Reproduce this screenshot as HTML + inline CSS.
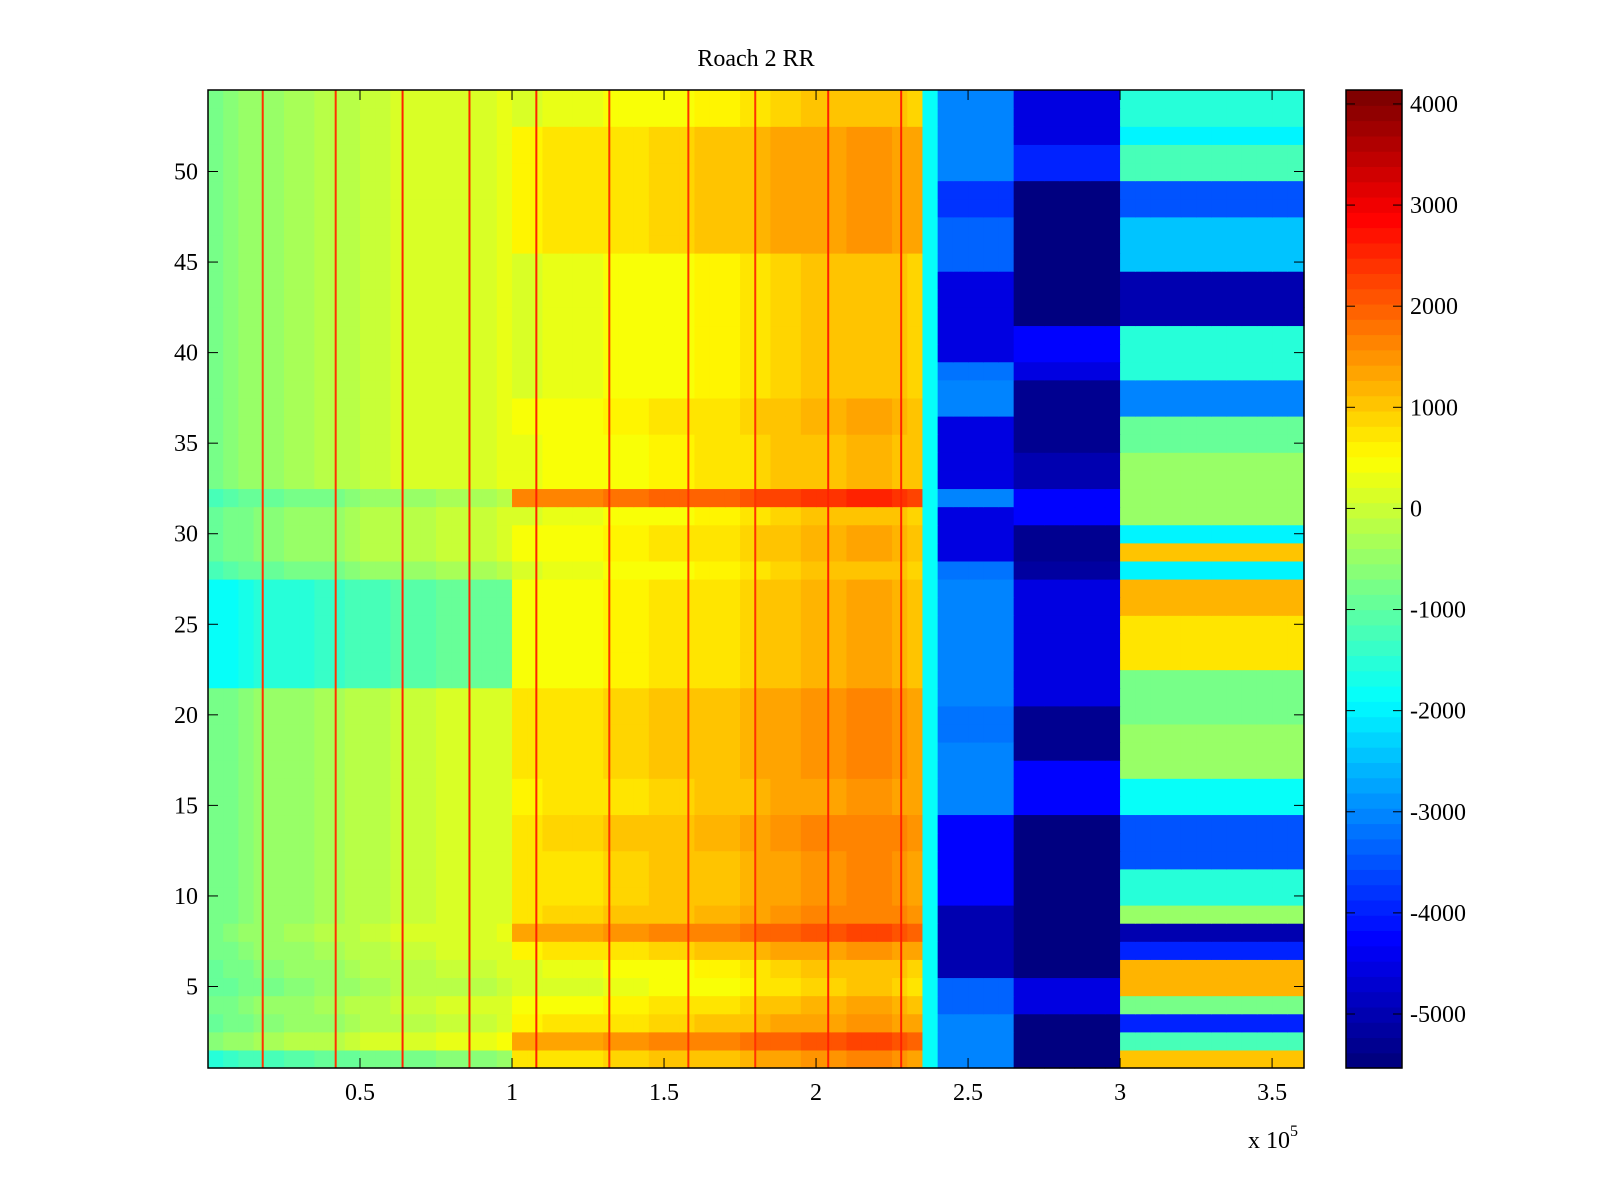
<!DOCTYPE html>
<html><head><meta charset="utf-8"><style>
html,body{margin:0;padding:0;background:#fff;}
svg{display:block;font-family:"Liberation Serif",serif;}
</style></head><body>
<svg id="chart" width="1600" height="1200" viewBox="0 0 1600 1200" xmlns="http://www.w3.org/2000/svg">
<rect width="1600" height="1200" fill="#fff"/>
<text x="756" y="66" font-size="24" text-anchor="middle">Roach 2 RR</text>
<g id="cells"></g>
<g id="stripes"></g>
<g id="axes"></g>
<g id="cbar"></g>
</svg>
<script>
// ---- data ----
const xBinWidth = 5000;
const colBase = [-600,-500,-400,-300,-300,-200,-200,-100,-100,0,
  100,100,200,200,200,300,300,300,300,400,
  400,400,500,500,500,500,600,600,600,700,
  700,700,800,800,800,900,1000,1100,1100,1200,
  1200,1200,1300,1300,1300,1200,1100,-1800];
// rows 1..54
const offsetNear = [-900,0,-300,-200,-400,-300,-200,-100,-200,-200,-200,-200,-200,-200,-200,-200,-200,-200,-200,-200,-200,-1300,-1300,-1300,-1300,-1300,-1300,-600,-300,-300,-300,-600,-100,-100,-100,-100,-100,-100,-100,-100,-100,-100,-100,-100,-100,-100,-100,-100,-100,-100,-100,-100,-100,-100];
const offsetFar = [300,900,200,0,-300,-200,200,900,400,300,300,300,400,400,200,200,300,300,300,300,300,0,0,0,0,0,0,-200,0,0,-200,1200,-100,-100,-100,0,0,-200,-200,-200,-200,-200,-200,-200,-200,200,200,200,200,200,200,200,-200,-200];
const midA = [-3000,-3000,-3000,-3300,-3300,-5000,-5000,-5000,-5000,-4200,-4200,-4200,-4200,-4200,-3000,-3000,-3000,-3000,-3200,-3200,-3000,-3000,-3000,-3000,-3000,-3000,-3000,-3200,-4500,-4500,-4500,-3000,-4500,-4500,-4500,-4500,-3000,-3000,-3200,-4500,-4500,-4500,-4500,-4500,-3300,-3300,-3300,-3800,-3800,-3000,-3000,-3000,-3000,-3000];
const midB = [-5400,-5400,-5400,-4500,-4500,-5400,-5400,-5400,-5400,-5400,-5400,-5400,-5400,-5400,-4300,-4300,-4300,-5300,-5300,-5300,-4500,-4500,-4500,-4500,-4500,-4500,-4500,-5200,-5300,-5300,-4300,-4300,-5000,-5000,-5300,-5300,-5300,-5300,-4500,-4300,-4300,-5400,-5400,-5400,-5400,-5400,-5400,-5400,-5400,-4000,-4000,-4500,-4500,-4500];
const rightR = [1000,-1200,-4000,-800,1200,1200,-4000,-5000,-500,-1500,-1500,-3500,-3500,-3500,-1800,-1800,-500,-500,-500,-800,-800,-800,800,800,800,1200,1200,-2000,1000,-2000,-500,-500,-500,-500,-1000,-1000,-3000,-3000,-1500,-1500,-1500,-5000,-5000,-5000,-2500,-2500,-2500,-3500,-3500,-1200,-1200,-2000,-1500,-1500];
const stripeX = [18000,42000,64000,86000,108000,132000,158000,180000,204000,228000];
const stripeVal = [2400,2400,2600,2600,2600,2400,2400,2400,2600,2600];
const xTicks = [0.5,1,1.5,2,2.5,3,3.5];
const yTicks = [5,10,15,20,25,30,35,40,45,50];
const cTicks = [-5000,-4000,-3000,-2000,-1000,0,1000,2000,3000,4000];
// ---- layout ----
const L=208,R=1304,T=90,B=1068;
const xMin=0,xMax=360500,yMin=0.5,yMax=54.5,cMin=-5534,cMax=4138;
const xs=v=>L+(v-xMin)/(xMax-xMin)*(R-L);
const ys=v=>T+(yMax-v)/(yMax-yMin)*(B-T);
const NS="http://www.w3.org/2000/svg";
function mk(tag,attrs,parent){const e=document.createElementNS(NS,tag);for(const k in attrs)e.setAttribute(k,attrs[k]);parent.appendChild(e);return e;}
function jet(t){t=Math.max(0,Math.min(1,t));t=Math.floor(t*63.999)/63;
  const r=Math.max(0,Math.min(1,1.5-Math.abs(4*t-3))),g=Math.max(0,Math.min(1,1.5-Math.abs(4*t-2))),b=Math.max(0,Math.min(1,1.5-Math.abs(4*t-1)));
  return `rgb(${Math.round(r*255)},${Math.round(g*255)},${Math.round(b*255)})`;}
const col=v=>jet((v-cMin)/(cMax-cMin));
const cells=document.getElementById('cells');
const nCols=Math.ceil(xMax/xBinWidth);
for(let r=1;r<=54;r++){
  for(let c=0;c<nCols;c++){
    const x0=c*xBinWidth,x1=Math.min(xMax,(c+1)*xBinWidth);
    let v;
    if(c<colBase.length){v=colBase[c]+(x0<100000?offsetNear[r-1]:offsetFar[r-1]);if(c===colBase.length-1)v=colBase[c];}
    else if(x0<265000)v=midA[r-1];
    else if(x0<300000)v=midB[r-1];
    else v=rightR[r-1];
    const el=mk('rect',{x:xs(x0),y:ys(r+0.5),width:xs(x1)-xs(x0)+0.6,height:ys(r-0.5)-ys(r+0.5)+0.6,fill:col(v)},cells);
    
    
  }
}
const stripes=document.getElementById('stripes');
stripeX.forEach((sx,i)=>{
  const el=mk('rect',{x:xs(sx)-1,y:T,width:2,height:B-T,fill:col(stripeVal[i])},stripes);
  
  
});
const axes=document.getElementById('axes');
mk('rect',{x:L,y:T,width:R-L,height:B-T,fill:'none',stroke:'#000','stroke-width':1.5},axes);
xTicks.forEach(t=>{const x=xs(t*1e5);
  mk('line',{x1:x,x2:x,y1:B,y2:B-10,stroke:'#000'},axes);
  mk('line',{x1:x,x2:x,y1:T,y2:T+10,stroke:'#000'},axes);
  const tx=mk('text',{x:x,y:B+32,'font-size':24,'text-anchor':'middle'},axes);tx.textContent=t;
  
  
});
yTicks.forEach(t=>{const y=ys(t);
  mk('line',{x1:L,x2:L+10,y1:y,y2:y,stroke:'#000'},axes);
  mk('line',{x1:R,x2:R-10,y1:y,y2:y,stroke:'#000'},axes);
  const tx=mk('text',{x:L-10,y:y+8,'font-size':24,'text-anchor':'end'},axes);tx.textContent=t;
  
  
});
const ex=mk('text',{x:1248,y:1148,'font-size':24},axes);ex.innerHTML='x 10<tspan dy="-12" font-size="16">5</tspan>';


// colorbar
const cb=document.getElementById('cbar');const CL=1346,CR=1402;
const cy=v=>T+(cMax-v)/(cMax-cMin)*(B-T);
for(let i=0;i<64;i++){const v0=cMin+i*(cMax-cMin)/64,v1=cMin+(i+1)*(cMax-cMin)/64;
  mk('rect',{x:CL,y:cy(v1),width:CR-CL,height:cy(v0)-cy(v1)+0.6,fill:jet((i+0.5)/64)},cb);}
mk('rect',{x:CL,y:T,width:CR-CL,height:B-T,fill:'none',stroke:'#000','stroke-width':1.5},cb);
cTicks.forEach(t=>{const y=cy(t);
  mk('line',{x1:CL,x2:CL+9,y1:y,y2:y,stroke:'#000'},cb);
  mk('line',{x1:CR,x2:CR-9,y1:y,y2:y,stroke:'#000'},cb);
  const tx=mk('text',{x:CR+8,y:y+8,'font-size':24},cb);tx.textContent=t;
  
  
});
</script>
</body></html>
